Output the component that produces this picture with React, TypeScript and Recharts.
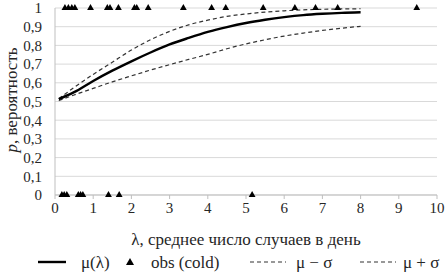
import { ComposedChart, Line, Scatter, XAxis, YAxis, ZAxis, CartesianGrid, Legend } from 'recharts'

const lambda = [0.1, 0.5, 1, 1.5, 2, 2.5, 3, 3.5, 4, 4.5, 5, 5.5, 6, 6.5, 7, 7.5, 8]
const mu = [0.513, 0.55, 0.61, 0.665, 0.715, 0.762, 0.805, 0.84, 0.872, 0.898, 0.92, 0.937, 0.951, 0.962, 0.969, 0.974, 0.977]
const muMinus = [0.505, 0.535, 0.57, 0.605, 0.637, 0.668, 0.697, 0.725, 0.752, 0.782, 0.808, 0.83, 0.85, 0.866, 0.88, 0.892, 0.902]
const muPlus = [0.515, 0.575, 0.645, 0.71, 0.775, 0.83, 0.875, 0.91, 0.935, 0.955, 0.968, 0.978, 0.985, 0.99, 0.993, 0.995, 0.996]

// observations: λ values with outcome 1 and outcome 0
const obsOne = [0.26, 0.35, 0.44, 0.52, 0.93, 1.37, 1.44, 1.66, 2.08, 2.14, 2.44, 3.36, 4.1, 4.47, 5.45, 6.28, 6.82, 7.4, 9.47]
const obsZero = [0.18, 0.24, 0.31, 0.61, 0.67, 0.73, 1.4, 1.68, 5.16]

const xTicks = [0, 1, 2, 3, 4, 5, 6, 7, 8, 9, 10]
const yTicks = [0, 0.1, 0.2, 0.3, 0.4, 0.5, 0.6, 0.7, 0.8, 0.9, 1]

const curveData = lambda.map((l, i) => ({ l, mu: mu[i], lo: muMinus[i], hi: muPlus[i] }))
const obsData = [...obsOne.map((l) => ({ l, p: 1 })), ...obsZero.map((l) => ({ l, p: 0 }))]

const font = '"Liberation Serif", "Times New Roman", serif'
const textColor = '#262626'
const fs = 17
const tickFs = 15

const fmt = (v: number) => (v === 0 || v === 1 ? String(v) : v.toFixed(1).replace('.', ','))

function LegendBox() {
  const y = 12
  const ts = { fontFamily: font, fontSize: fs, fill: textColor }
  return (
    <svg width={446} height={24}>
      <line x1={38} x2={66} y1={y} y2={y} stroke="#000" strokeWidth={2.4} />
      <text x={81} y={y + 6} {...ts}>μ(λ)</text>
      <polygon points={`${130},${y - 4} ${134},${y + 3} ${126},${y + 3}`} fill="#000" />
      <text x={151} y={y + 6} {...ts}>obs (cold)</text>
      <line x1={250} x2={286} y1={y} y2={y} stroke="#333" strokeWidth={1.2} strokeDasharray="4 3" />
      <text x={296} y={y + 6} {...ts}>μ − σ</text>
      <line x1={360} x2={396} y1={y} y2={y} stroke="#333" strokeWidth={1.2} strokeDasharray="4 3" />
      <text x={403} y={y + 6} {...ts}>μ + σ</text>
    </svg>
  )
}

export default function App() {
  return (
    <div style={{ position: 'absolute', left: 0, top: 0, width: 446, height: 274, background: '#fff' }}>
      <ComposedChart width={446} height={274} data={curveData} margin={{ top: 8, right: 9, left: 0, bottom: 0 }}>
        <CartesianGrid vertical={false} stroke="#d9d9d9" />
        <XAxis
          dataKey="l"
          type="number"
          domain={[0, 10]}
          ticks={xTicks}
          interval={0}
          height={55}
          stroke="#bfbfbf"
          tickSize={4}
          tickMargin={3}
          tick={{ fontFamily: font, fontSize: tickFs, fill: textColor }}
          label={{
            value: 'λ, среднее число случаев в день',
            position: 'insideBottom',
            offset: 5,
            style: { fontFamily: font, fontSize: fs, fill: textColor },
          }}
        />
        <YAxis
          type="number"
          domain={[0, 1]}
          ticks={yTicks}
          interval={0}
          width={55}
          stroke="#bfbfbf"
          tickLine={false}
          tickMargin={7}
          tickFormatter={fmt}
          tick={{ fontFamily: font, fontSize: tickFs, fill: textColor }}
          label={() => (
            <text
              x={11}
              y={100}
              transform="rotate(-90 11 100)"
              textAnchor="middle"
              dominantBaseline="central"
              style={{ fontFamily: font, fontSize: fs, fill: textColor }}
            >
              <tspan fontStyle="italic">p</tspan>, вероятность
            </text>
          )}
        />
        <ZAxis range={[20, 20]} />
        <Legend verticalAlign="bottom" height={24} content={() => <LegendBox />} />
        <Line dataKey="hi" type="monotone" stroke="#333" strokeWidth={1.2} strokeDasharray="4 3" dot={false} isAnimationActive={false} />
        <Line dataKey="lo" type="monotone" stroke="#333" strokeWidth={1.2} strokeDasharray="4 3" dot={false} isAnimationActive={false} />
        <Line dataKey="mu" type="monotone" stroke="#000" strokeWidth={2.4} dot={false} isAnimationActive={false} />
        <Scatter data={obsData} dataKey="p" shape="triangle" fill="#000" legendType="triangle" isAnimationActive={false} />
      </ComposedChart>
    </div>
  )
}
